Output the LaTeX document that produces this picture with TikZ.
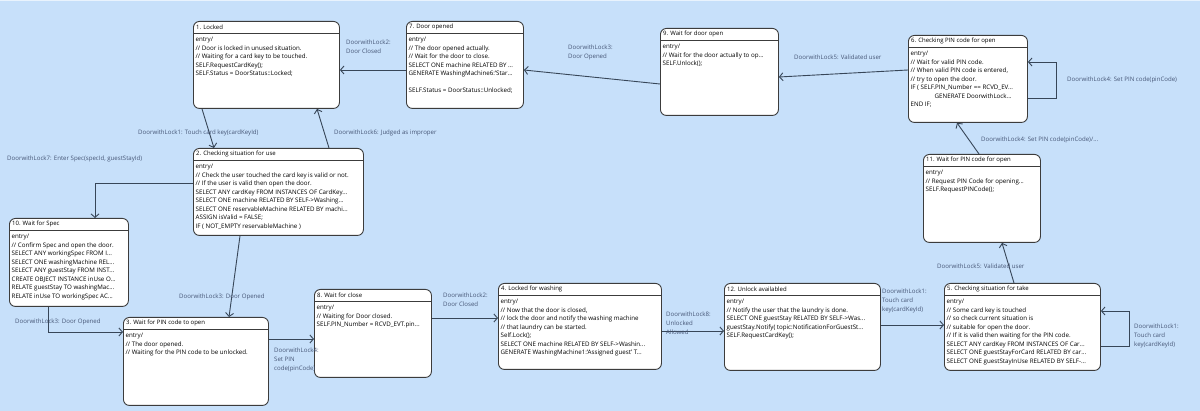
\documentclass[tikz,border=0pt]{standalone}
\usepackage{fontspec}
\setmainfont{Open Sans}
\usetikzlibrary{arrows.meta}
\definecolor{bgcol}{RGB}{199,224,250}
\definecolor{edgecol}{RGB}{55,70,88}
\definecolor{lblcol}{RGB}{70,86,118}
\definecolor{boxcol}{RGB}{60,60,60}
\tikzset{
  statebox/.style={draw=boxcol, fill=white, line width=0.9pt, rounded corners=6pt, inner sep=0pt},
  titletext/.style={font=\fontsize{6}{8.5}\selectfont, inner sep=0pt, text=black},
  bodytext/.style={font=\fontsize{6.2}{8.5}\selectfont, inner sep=0pt, align=left, text=black},
  sepline/.style={draw=boxcol, line width=0.9pt},
  edge/.style={draw=edgecol, line width=0.9pt, -{Straight Barb[length=3.5pt,width=8pt]}},
  lbl/.style={font=\fontsize{6.1}{8.6}\selectfont, inner sep=0pt, align=left, text=lblcol, anchor=north west}
}
\newcommand{\mkstate}[7]{%
  \node[statebox, anchor=north west, minimum width={(#4-#2)*1pt}, minimum height={(#5-#3)*1pt}] (#1) at (#2,#3) {};
  \node[titletext, anchor=west] (#1-t) at ([xshift=3pt,yshift=-6.2pt]#1.north west) {#6};
  \draw[sepline] ([yshift=-12.5pt]#1.north west) -- ([yshift=-12.5pt]#1.north east);
  \node[bodytext, anchor=north west] (#1-b) at ([xshift=2.5pt,yshift=-16pt]#1.north west) {#7};
}
\begin{document}
\begin{tikzpicture}[x=1pt,y=-1pt]
\useasboundingbox (0,0) rectangle (1200,411);
\fill[bgcol] (0,0) rectangle (1200,411);
\fill[white!60!bgcol] (0,0) rectangle (1200,1.5);

\mkstate{n1}{193}{21}{339}{108}{1. Locked}{entry/\\// Door is locked in unused situation.\\// Waiting for a card key to be touched.\\SELF.RequestCardKey();\\SELF.Status = DoorStatus::Locked;}
\mkstate{n7}{406}{21}{523}{108}{7. Door opened}{entry/\\// The door opened actually.\\// Wait for the door to close.\\SELECT ONE machine RELATED BY ...\\GENERATE WashingMachine6:'Star...\\[8.5pt]SELF.Status = DoorStatus::Unlocked;}
\mkstate{n9}{660}{28}{778}{115}{9. Wait for door open}{entry/\\// Wait for the door actually to op...\\SELF.Unlock();}
\mkstate{n6}{908}{35}{1027}{122}{6. Checking PIN code for open}{entry/\\// Wait for valid PIN code.\\// When valid PIN code is entered,\\// try to open the door.\\IF ( SELF.PIN\_Number == RCVD\_EV...\\\hspace*{24pt}GENERATE DoorwithLock...\\END IF;}
\mkstate{n11}{923}{154}{1040}{242}{11. Wait for PIN code for open}{entry/\\// Request PIN Code for opening...\\SELF.RequestPINCode();}
\mkstate{n2}{193}{148}{363}{235}{2. Checking situation for use}{entry/\\// Check the user touched the card key is valid or not.\\// If the user is valid then open the door.\\SELECT ANY cardKey FROM INSTANCES OF CardKey...\\SELECT ONE machine RELATED BY SELF->Washing...\\SELECT ONE reservableMachine RELATED BY machi...\\ASSIGN isValid = FALSE;\\IF ( NOT\_EMPTY reservableMachine )}
\mkstate{n10}{9}{218}{128}{306}{10. Wait for Spec}{entry/\\// Confirm Spec and open the door.\\SELECT ANY workingSpec FROM I...\\SELECT ONE washingMachine REL...\\SELECT ANY guestStay FROM INST...\\CREATE OBJECT INSTANCE inUse O...\\RELATE guestStay TO washingMac...\\RELATE inUse TO workingSpec AC...}
\mkstate{n3}{123}{317}{268}{405}{3. Wait for PIN code to open}{entry/\\// The door opened.\\// Waiting for the PIN code to be unlocked.}
\mkstate{n8}{314}{289}{431}{377}{8. Wait for close}{entry/\\// Waiting for Door closed.\\SELF.PIN\_Number = RCVD\_EVT.pin...}
\mkstate{n4}{498}{283}{661}{369}{4. Locked for washing}{entry/\\// Now that the door is closed,\\// lock the door and notify the washing machine\\// that laundry can be started.\\Self.Lock();\\SELECT ONE machine RELATED BY SELF->Washin...\\GENERATE WashingMachine1:'Assigned guest' T...}
\mkstate{n12}{724}{283}{880}{370}{12. Unlock availabled}{entry/\\// Notify the user that the laundry is done.\\SELECT ONE guestStay RELATED BY SELF->Was...\\guestStay.Notify( topic:NotificationForGuestSt...\\SELF.RequestCardKey();}
\mkstate{n5}{944}{283}{1100}{370}{5. Checking situation for take}{entry/\\// Some card key is touched\\// so check current situation is\\// suitable for open the door.\\// If it is valid then waiting for the PIN code.\\SELECT ANY cardKey FROM INSTANCES OF Car...\\SELECT ONE guestStayForCard RELATED BY car...\\SELECT ONE guestStayInUse RELATED BY SELF-...}

% connectors
\draw[edge] (n7.west |- 0,70) -- (n1.east |- 0,70);
\draw[edge] (n9.west |- 0,84) -- (n7.east |- 0,70);
\draw[edge] (n6.west |- 0,70) -- (n9.east |- 0,77);
\draw[edge] (n6.east |- 0,98) -- (1056,98) -- (1056,62) -- (n6.east |- 0,62);
\draw[edge] (979,0 |- n11.north) -- (957,0 |- n6.south);
\draw[edge] (1014,0 |- n5.north) -- (1002,0 |- n11.south);
\draw[edge] (n5.east |- 0,346) -- (1129,346) -- (1129,311) -- (n5.east |- 0,311);
\draw[edge] (n12.east |- 0,325) -- (n5.west |- 0,325);
\draw[edge] (n4.east |- 0,331) -- (n12.west |- 0,331);
\draw[edge] (n8.east |- 0,318) -- (n4.west |- 0,318);
\draw[edge] (n3.east |- 0,339) -- (n8.west |- 0,339);
\draw[edge] (48,0 |- n10.south) |- (n3.west |- 0,332);
\draw[edge] (240,0 |- n2.south) -- (229,0 |- n3.north);
\draw[edge] (n2.west |- 0,183) -| (95,0 |- n10.north);
\draw[edge] (202,0 |- n1.south) -- (214,0 |- n2.north);
\draw[edge] (329,0 |- n2.north) -- (317,0 |- n1.south);

% labels
\node[lbl] (l72) at (346,40) {DoorwithLock2:\\Door Closed};
\node[lbl] (l97) at (568,45) {DoorwithLock3:\\Door Opened};
\node[lbl] (l69) at (794,54.5) {DoorwithLock5: Validated user};
\node[lbl] (l66) at (1067,76.5) {DoorwithLock4: Set PIN code(pinCode)};
\node[lbl] (l116) at (981,136.5) {DoorwithLock4: Set PIN code(pinCode)/...};
\node[lbl] (l511) at (937,263.5) {DoorwithLock5: Validated user};
\node[lbl] (l55) at (1134,324) {DoorwithLock1:\\Touch card\\key(cardKeyId)};
\node[lbl] (l125) at (882,289) {DoorwithLock1:\\Touch card\\key(cardKeyId)};
\node[lbl] (l412) at (666,312) {DoorwithLock8:\\Unlocked\\Allowed};
\node[lbl] (l84) at (443,293) {DoorwithLock2:\\Door Closed};
\node[lbl] (l38) at (274,348) {DoorwithLock4:\\Set PIN\\code(pinCode)};
\node[lbl] (l103) at (15,318.5) {DoorwithLock3: Door Opened};
\node[lbl] (l23) at (179,293.5) {DoorwithLock3: Door Opened};
\node[lbl] (l210) at (7,155.5) {DoorwithLock7: Enter Spec(specId, guestStayId)};
\node[lbl] (l12) at (138,129.5) {DoorwithLock1: Touch card key(cardKeyId)};
\node[lbl] (l21) at (334,129.5) {DoorwithLock6: Judged as improper};
\end{tikzpicture}
\end{document}
